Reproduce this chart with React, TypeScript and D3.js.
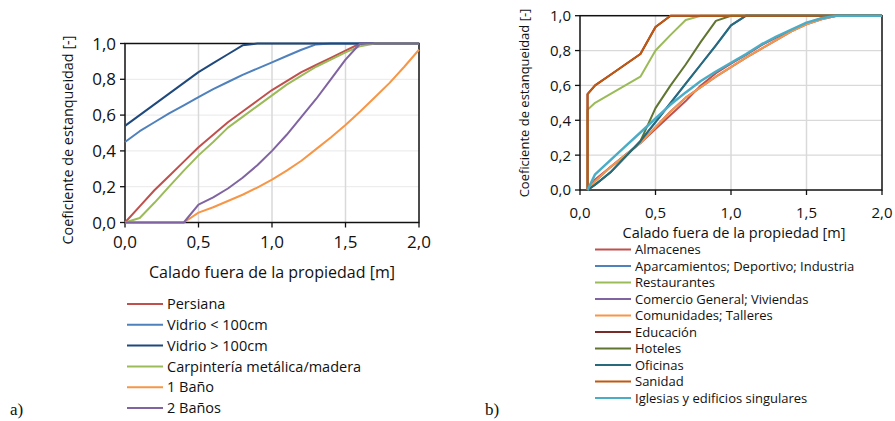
import React from "react";
import * as d3 from "d3";

// ---- Panel a) : window / door elements ----
const xA = [0, 0.1, 0.2, 0.3, 0.4, 0.5, 0.6, 0.7, 0.8, 0.9, 1.0, 1.1, 1.2, 1.3, 1.4, 1.5, 1.6, 1.7, 1.8, 1.9, 2.0];
const persiana = [0, 0.09, 0.18, 0.26, 0.34, 0.42, 0.49, 0.56, 0.62, 0.68, 0.74, 0.79, 0.84, 0.88, 0.92, 0.96, 1.0, 1.0, 1.0, 1.0, 1.0];
const vidrioMenor = [0.45, 0.51, 0.56, 0.61, 0.655, 0.7, 0.745, 0.785, 0.825, 0.86, 0.895, 0.93, 0.965, 0.995, 1.0, 1.0, 1.0, 1.0, 1.0, 1.0, 1.0];
const vidrioMayor = [0.54, 0.6, 0.66, 0.72, 0.78, 0.84, 0.89, 0.94, 0.99, 1.0, 1.0, 1.0, 1.0, 1.0, 1.0, 1.0, 1.0, 1.0, 1.0, 1.0, 1.0];
const carpinteria = [0, 0.025, 0.11, 0.2, 0.29, 0.375, 0.45, 0.53, 0.59, 0.65, 0.71, 0.77, 0.82, 0.87, 0.91, 0.95, 0.985, 1.0, 1.0, 1.0, 1.0];
const unBano = [0, 0, 0, 0, 0, 0.055, 0.085, 0.12, 0.155, 0.195, 0.24, 0.29, 0.345, 0.41, 0.475, 0.545, 0.62, 0.7, 0.78, 0.87, 0.965];
const dosBanos = [0, 0, 0, 0, 0, 0.1, 0.14, 0.19, 0.25, 0.32, 0.4, 0.49, 0.59, 0.69, 0.8, 0.91, 1.0, 1.0, 1.0, 1.0, 1.0];
const namesA = ["Persiana", "Vidrio < 100cm", "Vidrio > 100cm", "Carpintería metálica/madera", "1 Baño", "2 Baños"];
const colorsA = ["#C0504D", "#4F81BD", "#1F497D", "#9BBB59", "#F79646", "#8064A2"];
const seriesA = [persiana, vidrioMenor, vidrioMayor, carpinteria, unBano, dosBanos];

// ---- Panel b) : building uses ----
const xB = [0.05, 0.05, 0.1, 0.2, 0.3, 0.4, 0.5, 0.6, 0.7, 0.8, 0.9, 1.0, 1.1, 1.2, 1.3, 1.4, 1.5, 1.6, 1.7, 1.8, 1.9, 2.0];
const almacenes = [0, 0, 0.06, 0.13, 0.2, 0.27, 0.35, 0.43, 0.51, 0.6, 0.67, 0.725, 0.775, 0.83, 0.875, 0.915, 0.955, 0.985, 1.0, 1.0, 1.0, 1.0];
const aparcamientos = [0, 0, 0.03, 0.1, 0.19, 0.28, 0.39, 0.5, 0.61, 0.72, 0.83, 0.945, 1.0, 1.0, 1.0, 1.0, 1.0, 1.0, 1.0, 1.0, 1.0, 1.0];
const restaurantes = [0, 0.46, 0.5, 0.55, 0.6, 0.65, 0.8, 0.89, 0.975, 1.0, 1.0, 1.0, 1.0, 1.0, 1.0, 1.0, 1.0, 1.0, 1.0, 1.0, 1.0, 1.0];
const comercio = [0, 0, 0.05, 0.13, 0.2, 0.27, 0.36, 0.45, 0.53, 0.59, 0.65, 0.705, 0.76, 0.81, 0.86, 0.91, 0.95, 0.98, 1.0, 1.0, 1.0, 1.0];
const comunidades = [0, 0, 0.05, 0.13, 0.2, 0.27, 0.36, 0.45, 0.53, 0.59, 0.65, 0.705, 0.76, 0.81, 0.86, 0.91, 0.95, 0.98, 1.0, 1.0, 1.0, 1.0];
const educacion = [0, 0.55, 0.6, 0.66, 0.72, 0.78, 0.935, 1.0, 1.0, 1.0, 1.0, 1.0, 1.0, 1.0, 1.0, 1.0, 1.0, 1.0, 1.0, 1.0, 1.0, 1.0];
const hoteles = [0, 0, 0.03, 0.1, 0.19, 0.28, 0.47, 0.6, 0.72, 0.85, 0.97, 1.0, 1.0, 1.0, 1.0, 1.0, 1.0, 1.0, 1.0, 1.0, 1.0, 1.0];
const oficinas = [0, 0, 0.03, 0.1, 0.19, 0.28, 0.39, 0.5, 0.61, 0.72, 0.83, 0.945, 1.0, 1.0, 1.0, 1.0, 1.0, 1.0, 1.0, 1.0, 1.0, 1.0];
const sanidad = [0, 0.55, 0.6, 0.66, 0.72, 0.78, 0.935, 1.0, 1.0, 1.0, 1.0, 1.0, 1.0, 1.0, 1.0, 1.0, 1.0, 1.0, 1.0, 1.0, 1.0, 1.0];
const iglesias = [0, 0, 0.09, 0.17, 0.25, 0.33, 0.41, 0.49, 0.56, 0.625, 0.68, 0.73, 0.78, 0.835, 0.88, 0.92, 0.96, 0.985, 1.0, 1.0, 1.0, 1.0];
const namesB = [
  "Almacenes",
  "Aparcamientos; Deportivo; Industria",
  "Restaurantes",
  "Comercio General; Viviendas",
  "Comunidades; Talleres",
  "Educación",
  "Hoteles",
  "Oficinas",
  "Sanidad",
  "Iglesias y edificios singulares",
];
const colorsB = ["#C0504D", "#4F81BD", "#9BBB59", "#8064A2", "#F79646", "#772C2A", "#5F7530", "#276A7C", "#C0590F", "#4BACC6"];
const seriesB = [almacenes, aparcamientos, restaurantes, comercio, comunidades, educacion, hoteles, oficinas, sanidad, iglesias];

const xTicks = [0, 0.5, 1.0, 1.5, 2.0];
const yTicks = [0, 0.2, 0.4, 0.6, 0.8, 1.0];
const xTitle = "Calado fuera de la propiedad [m]";
const yTitle = "Coeficiente de estanqueidad [-]";

const FONT = "'Open Sans', sans-serif";
const fmt = (v: number) => v.toFixed(1).replace(".", ",");

type PanelProps = {
  xs: number[];
  series: number[][];
  colors: string[];
  left: number;
  right: number;
  top: number;
  bottom: number;
  tickSize: number;
  xLabelGap: number;
  hGrid: string;
  vGrid: string;
  lineWidth: number[];
};

function Panel({ xs, series, colors, left, right, top, bottom, tickSize, xLabelGap, hGrid, vGrid, lineWidth }: PanelProps) {
  const x = d3.scaleLinear().domain([0, 2]).range([left, right]);
  const y = d3.scaleLinear().domain([0, 1]).range([bottom, top]);
  const line = d3
    .line<number>()
    .x((_, i) => x(xs[i]))
    .y((d) => y(d));
  return (
    <g>
      {yTicks.slice(1, -1).map((t) => (
        <line key={"h" + t} x1={left} x2={right} y1={y(t)} y2={y(t)} stroke={hGrid} strokeWidth={1.3} />
      ))}
      {xTicks.slice(1, -1).map((t) => (
        <line key={"v" + t} x1={x(t)} x2={x(t)} y1={top} y2={bottom} stroke={vGrid} strokeWidth={1.5} />
      ))}
      <rect x={left} y={top} width={right - left} height={bottom - top} fill="none" stroke="#111" strokeWidth={1.5} />
      {xTicks.map((t) => (
        <g key={"xt" + t}>
          <line x1={x(t)} x2={x(t)} y1={bottom} y2={bottom + 5} stroke="#111" strokeWidth={1.3} />
          <text x={x(t)} y={bottom + xLabelGap} textAnchor="middle" fontSize={tickSize} fontFamily={FONT} fill="#111">
            {fmt(t)}
          </text>
        </g>
      ))}
      {yTicks.map((t) => (
        <g key={"yt" + t}>
          <line x1={left - 5} x2={left} y1={y(t)} y2={y(t)} stroke="#111" strokeWidth={1.3} />
          <text x={left - 9} y={y(t) + tickSize * 0.36} textAnchor="end" fontSize={tickSize} fontFamily={FONT} fill="#111">
            {fmt(t)}
          </text>
        </g>
      ))}
      {series.map((s, i) => (
        <path key={"s" + i} d={line(s) || ""} fill="none" stroke={colors[i]} strokeWidth={lineWidth[i]} strokeLinejoin="round" />
      ))}
    </g>
  );
}

type LegendProps = { names: string[]; colors: string[]; x: number; y0: number; step: number; size: number };

function Legend({ names, colors, x, y0, step, size }: LegendProps) {
  return (
    <g>
      {names.map((n, i) => (
        <g key={n}>
          <line x1={x} x2={x + 36} y1={y0 + i * step} y2={y0 + i * step} stroke={colors[i]} strokeWidth={2} />
          <text x={x + 40} y={y0 + i * step + size * 0.36} fontSize={size} fontFamily={FONT} fill="#111">
            {n}
          </text>
        </g>
      ))}
    </g>
  );
}

export default function App() {
  return (
    <svg width={895} height={421} style={{ position: "absolute", left: 0, top: 0, background: "#fff" }}>
      <rect width={895} height={421} fill="#fff" />
      {/* a) */}
      <Panel
        xs={xA}
        series={seriesA}
        colors={colorsA}
        left={125}
        right={419}
        top={43.5}
        bottom={222.5}
        tickSize={17}
        xLabelGap={25.5}
        hGrid="#EDEDED"
        vGrid="#D9D9D9"
        lineWidth={[2, 2, 2, 2, 2, 2]}
      />
      <text x={272} y={278} textAnchor="middle" fontSize={16} fontFamily={FONT} fill="#111">
        {xTitle}
      </text>
      <text transform="translate(73,140) rotate(-90)" textAnchor="middle" fontSize={14.4} fontFamily={FONT} fill="#111">
        {yTitle}
      </text>
      <Legend names={namesA} colors={colorsA} x={127} y0={304} step={20.8} size={14.5} />
      <text x={10} y={415} fontSize={17} fontFamily="'Liberation Serif', serif" fill="#111">
        a)
      </text>

      {/* b) */}
      <Panel
        xs={xB}
        series={seriesB}
        colors={colorsB}
        left={580}
        right={882}
        top={15.7}
        bottom={190}
        tickSize={15}
        xLabelGap={28}
        hGrid="#D9D9D9"
        vGrid="#D9D9D9"
        lineWidth={[2, 2, 2, 2, 2, 2, 2, 2, 2, 2.5]}
      />
      <text x={734} y={237.5} textAnchor="middle" fontSize={14.5} fontFamily={FONT} fill="#111">
        {xTitle}
      </text>
      <text transform="translate(529,103) rotate(-90)" textAnchor="middle" fontSize={13} fontFamily={FONT} fill="#111">
        {yTitle}
      </text>
      <Legend names={namesB} colors={colorsB} x={595} y0={249.5} step={16.5} size={13} />
      <text x={485} y={415} fontSize={17} fontFamily="'Liberation Serif', serif" fill="#111">
        b)
      </text>
    </svg>
  );
}
